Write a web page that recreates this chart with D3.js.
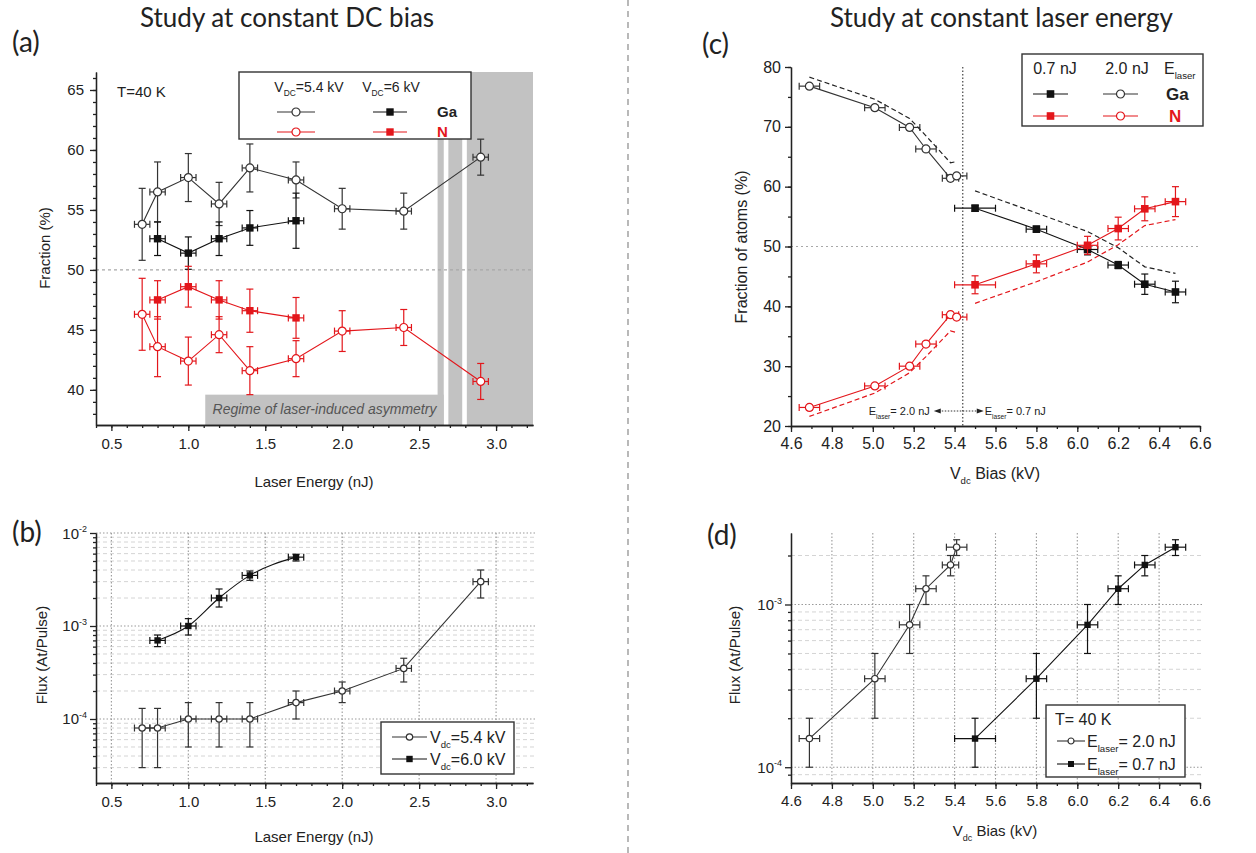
<!DOCTYPE html>
<html>
<head>
<meta charset="utf-8">
<script src="https://cdn.jsdelivr.net/npm/d3@7"></script>
<style>
  body { margin: 0; background: #fff; }
  svg { display: block; }
  text { font-family: "Liberation Sans", Arial, sans-serif; fill: #222; }
</style>
</head>
<body>
<svg id="fig" width="1256" height="853"></svg>
<script>
// ---- panel (a): fraction vs laser energy ----
var energyLow = [0.7, 0.8, 1.0, 1.2, 1.4, 1.7, 2.0, 2.4, 2.9];      // Vdc = 5.4 kV
var gaLow     = [53.8, 56.5, 57.7, 55.5, 58.5, 57.5, 55.1, 54.9, 59.4];
var gaLowErr  = [3.0, 2.5, 2.0, 1.8, 2.0, 1.5, 1.7, 1.5, 1.5];
var nLow      = [46.3, 43.6, 42.4, 44.6, 41.6, 42.6, 44.9, 45.2, 40.7];
var nLowErr   = [3.0, 2.5, 2.0, 1.5, 2.0, 1.5, 1.7, 1.5, 1.5];
var energyHigh = [0.8, 1.0, 1.2, 1.4, 1.7];                        // Vdc = 6 kV
var gaHigh     = [52.6, 51.4, 52.6, 53.5, 54.1];
var gaHighErr  = [1.4, 1.35, 1.4, 1.45, 2.3];
var nHigh      = [47.5, 48.6, 47.5, 46.6, 46.0];
var nHighErr   = [1.6, 1.7, 1.6, 1.8, 1.7];
var energyErr  = 0.05;
var asymBands  = [[2.62, 2.66], [2.69, 2.78], [2.81, 3.24]];
var regimeBox  = [1.11, 2.66, 37.07, 39.6];

// ---- panel (b): flux vs laser energy ----
var fluxLow    = [8e-5, 8e-5, 1e-4, 1e-4, 1e-4, 1.5e-4, 2e-4, 3.5e-4, 3e-3];
var fluxLowHi  = [1.3e-4, 1.3e-4, 1.5e-4, 1.5e-4, 1.5e-4, 2e-4, 2.5e-4, 4.5e-4, 4e-3];
var fluxLowLo  = [3e-5, 3e-5, 5e-5, 5e-5, 5e-5, 1e-4, 1.5e-4, 2.5e-4, 2e-3];
var fluxHigh   = [7e-4, 1e-3, 2e-3, 3.5e-3, 5.5e-3];
var fluxHighHi = [8e-4, 1.2e-3, 2.5e-3, 3.9e-3, 5.9e-3];
var fluxHighLo = [6e-4, 8e-4, 1.6e-3, 3.1e-3, 5e-3];

// ---- panel (c): fraction vs DC bias ----
var biasE2     = [4.69, 5.01, 5.18, 5.26, 5.38, 5.41];   // Elaser = 2.0 nJ
var biasE2Err  = [0.05, 0.05, 0.05, 0.05, 0.04, 0.05];
var gaE2       = [76.8, 73.2, 69.9, 66.3, 61.4, 61.8];
var nE2        = [23.1, 26.7, 30.0, 33.7, 38.6, 38.2];
var fracE2Err  = [0.4, 0.4, 0.4, 0.4, 0.4, 0.4];
var gaE2Dash   = [78.3, 74.6, 71.4, 68.5, 64.0, 64.2];
var nE2Dash    = [21.6, 25.5, 28.9, 31.6, 35.9, 35.6];
var biasE07    = [5.5, 5.8, 6.05, 6.2, 6.33, 6.48];       // Elaser = 0.7 nJ
var biasE07Err = [0.1, 0.05, 0.05, 0.05, 0.05, 0.05];
var gaE07      = [56.4, 52.9, 49.5, 46.9, 43.7, 42.4];
var gaE07Err   = [0.5, 0.5, 0.9, 0.6, 1.7, 1.8];
var nE07       = [43.6, 47.1, 50.2, 53.0, 56.3, 57.5];
var nE07Err    = [1.5, 1.5, 1.5, 1.9, 2.0, 2.5];
var gaE07Dash  = [59.3, 55.6, 52.5, 49.8, 46.6, 45.5];
var nE07Dash   = [40.5, 44.1, 47.4, 50.3, 53.5, 54.5];
var biasSwitch = 5.44;

// ---- panel (d): flux vs DC bias ----
var fluxE2     = [1.5e-4, 3.5e-4, 7.5e-4, 1.25e-3, 1.75e-3, 2.25e-3];
var fluxE2Hi   = [2e-4, 5e-4, 1e-3, 1.5e-3, 2e-3, 2.5e-3];
var fluxE2Lo   = [1e-4, 2e-4, 5e-4, 1e-3, 1.5e-3, 2e-3];
var fluxE07    = [1.5e-4, 3.5e-4, 7.5e-4, 1.25e-3, 1.75e-3, 2.25e-3];
var fluxE07Hi  = [2e-4, 5e-4, 1e-3, 1.5e-3, 2e-3, 2.5e-3];
var fluxE07Lo  = [1e-4, 2e-4, 5e-4, 1e-3, 1.5e-3, 2e-3];

var RED = "#e3161b", INK = "#222";
var svg = d3.select("#fig");
svg.append("rect").attr("width", 1256).attr("height", 853).attr("fill", "#fff");

// scales
var xA = d3.scaleLinear().domain([0.4, 3.24]).range([96, 533]);
var yA = d3.scaleLinear().domain([37.07, 66.5]).range([425, 72]);
var xB = xA.copy();
var yB = d3.scaleLog().domain([2.05e-5, 1e-2]).range([783, 533]);
var xC = d3.scaleLinear().domain([4.6, 6.6]).range([791, 1200]);
var yC = d3.scaleLinear().domain([20, 80]).range([426, 67]);
var xD = xC.copy();
var yD = d3.scaleLog().domain([8e-5, 2.75e-3]).range([783, 533]);

function points(xs, ys, xErr, yLo, yHi) {
    return xs.map(function (v, i) {
        var e = Array.isArray(xErr) ? xErr[i] : xErr;
        return {x: v, y: ys[i], xlo: v - e, xhi: v + e, ylo: yLo[i], yhi: yHi[i]};
    });
}
function minus(a, b) { return a.map(function (v, i) { return v - b[i]; }); }
function plus(a, b) { return a.map(function (v, i) { return v + b[i]; }); }
function range(a, b, s) { return d3.range(Math.round(a / s), Math.round(b / s) + 1).map(function (k) { return +(k * s).toFixed(3); }); }

function rich(g, x, y, parts, size, anchor) {
    var t = g.append("text").attr("x", x).attr("y", y).attr("font-size", size)
        .attr("text-anchor", anchor || "start");
    var shift = 0;
    parts.forEach(function (p) {
        var target = p.sub ? size * 0.32 : (p.sup ? -size * 0.42 : 0);
        t.append("tspan").attr("dy", target - shift)
            .attr("font-size", (p.sub || p.sup) ? size * 0.6 : size)
            .text(p.t);
        shift = target;
    });
    return t;
}

function series(g, x, y, data, o) {
    var line = d3.line().x(function (d) { return x(d.x); }).y(function (d) { return y(d.y); })
        .curve(o.curve || d3.curveLinear);
    g.append("path").datum(data).attr("d", line).attr("fill", "none")
        .attr("stroke", o.color).attr("stroke-width", 1.1);
    var cap = o.cap || 3.5;
    var eb = g.append("g").attr("stroke", o.color).attr("stroke-width", 1.2);
    eb.selectAll(".v").data(data).join("line")
        .attr("x1", function (d) { return x(d.x); }).attr("x2", function (d) { return x(d.x); })
        .attr("y1", function (d) { return y(d.ylo); }).attr("y2", function (d) { return y(d.yhi); });
    ["ylo", "yhi"].forEach(function (k) {
        eb.selectAll(".c" + k).data(data).join("line")
            .attr("x1", function (d) { return x(d.x) - cap; }).attr("x2", function (d) { return x(d.x) + cap; })
            .attr("y1", function (d) { return y(d[k]); }).attr("y2", function (d) { return y(d[k]); });
    });
    eb.selectAll(".h").data(data).join("line")
        .attr("x1", function (d) { return x(d.xlo); }).attr("x2", function (d) { return x(d.xhi); })
        .attr("y1", function (d) { return y(d.y); }).attr("y2", function (d) { return y(d.y); });
    ["xlo", "xhi"].forEach(function (k) {
        eb.selectAll(".c" + k).data(data).join("line")
            .attr("x1", function (d) { return x(d[k]); }).attr("x2", function (d) { return x(d[k]); })
            .attr("y1", function (d) { return y(d.y) - cap; }).attr("y2", function (d) { return y(d.y) + cap; });
    });
    marker(g.append("g").selectAll("g").data(data).join("g")
        .attr("transform", function (d) { return "translate(" + x(d.x) + "," + y(d.y) + ")"; }), o);
}

function marker(sel, o) {
    if (o.shape === "circle") {
        sel.append("circle").attr("r", o.size).attr("fill", "#fff")
            .attr("stroke", o.color).attr("stroke-width", 1.2);
    } else {
        sel.append("rect").attr("x", -o.size).attr("y", -o.size)
            .attr("width", 2 * o.size).attr("height", 2 * o.size).attr("fill", o.color);
    }
}

function dashed(g, x, y, xs, ys, color) {
    g.append("path").datum(d3.zip(xs, ys))
        .attr("d", d3.line().x(function (d) { return x(d[0]); }).y(function (d) { return y(d[1]); }))
        .attr("fill", "none").attr("stroke", color).attr("stroke-width", 1.2)
        .attr("stroke-dasharray", "5,3");
}

function styleAxis(sel, fs) {
    sel.attr("font-size", null).attr("font-family", null);
    sel.selectAll("path, line").attr("stroke", INK).attr("stroke-width", 1.3);
    sel.selectAll("text").attr("font-size", fs).attr("fill", INK);
}

function axesLinear(x, y, o) {
    var g = svg.append("g");
    var y0 = y.range()[0], x0 = x.range()[0];
    styleAxis(g.append("g").attr("transform", "translate(0," + y0 + ")")
        .call(d3.axisBottom(x).tickValues(o.xMinor).tickSize(3).tickSizeOuter(0).tickFormat("")), o.fs);
    styleAxis(g.append("g").attr("transform", "translate(0," + y0 + ")")
        .call(d3.axisBottom(x).tickValues(o.xMajor).tickSize(6).tickSizeOuter(0).tickPadding(o.padX)
            .tickFormat(d3.format(".1f"))), o.fs);
    styleAxis(g.append("g").attr("transform", "translate(" + x0 + ",0)")
        .call(d3.axisLeft(y).tickValues(o.yMinor).tickSize(3).tickSizeOuter(0).tickFormat("")), o.fs);
    if (o.log) {
        var ly = g.append("g").attr("transform", "translate(" + x0 + ",0)")
            .call(d3.axisLeft(y).tickValues(o.yMajor).tickSize(6).tickSizeOuter(0).tickFormat(""));
        styleAxis(ly, o.fs);
        ly.selectAll(".tick").each(function (d) {
            rich(d3.select(this), -9, 5, [{t: "10"}, {t: "-" + Math.round(-Math.log10(d)), sup: true}], o.fs, "end");
        });
    } else {
        styleAxis(g.append("g").attr("transform", "translate(" + x0 + ",0)")
            .call(d3.axisLeft(y).tickValues(o.yMajor).tickSize(6).tickSizeOuter(0).tickPadding(o.padY)
                .tickFormat(d3.format("d"))), o.fs);
    }
}

function logGrid(g, x, y, xMajor, yMajor, yMinor) {
    var x0 = x.range()[0], x1 = x.range()[1] + 2, y0 = y.range()[0], y1 = y.range()[1];
    g.selectAll(".gm").data(yMinor).join("line")
        .attr("x1", x0).attr("x2", x1).attr("y1", y).attr("y2", y)
        .attr("stroke", "#d4d4d4").attr("stroke-width", 1).attr("stroke-dasharray", "4,3");
    g.selectAll(".gy").data(yMajor).join("line")
        .attr("x1", x0).attr("x2", x1).attr("y1", y).attr("y2", y)
        .attr("stroke", "#9a9a9a").attr("stroke-width", 1.1).attr("stroke-dasharray", "1.5,2");
    g.selectAll(".gx").data(xMajor).join("line")
        .attr("x1", x).attr("x2", x).attr("y1", y0).attr("y2", y1)
        .attr("stroke", "#9a9a9a").attr("stroke-width", 1.1).attr("stroke-dasharray", "1.5,2");
}

function legendRow(g, x1, x2, y, o) {
    g.append("line").attr("x1", x1).attr("x2", x2).attr("y1", y).attr("y2", y)
        .attr("stroke", o.color).attr("stroke-width", 1.1);
    marker(g.append("g").attr("transform", "translate(" + (x1 + x2) / 2 + "," + y + ")"), o);
}

// ---- titles & separator ----
svg.append("line").attr("x1", 628).attr("x2", 628).attr("y1", 0).attr("y2", 853)
    .attr("stroke", "#8a8a8a").attr("stroke-width", 1.2).attr("stroke-dasharray", "6,5");
svg.append("text").attr("x", 140).attr("y", 27).attr("font-size", 26)
    .style("font-family", "Lato, 'Open Sans', sans-serif").text("Study at constant DC bias");
svg.append("text").attr("x", 830).attr("y", 27).attr("font-size", 26)
    .style("font-family", "Lato, 'Open Sans', sans-serif").text("Study at constant laser energy");
[["(a)", 12, 52], ["(b)", 12, 542], ["(c)", 702, 54], ["(d)", 707, 545]].forEach(function (p) {
    svg.append("text").attr("x", p[1]).attr("y", p[2]).attr("font-size", 28)
        .style("font-family", "Lato, 'Open Sans', sans-serif").text(p[0]);
});

// ================= panel (a) =================
var gA = svg.append("g");
gA.selectAll(".band").data(asymBands).join("rect")
    .attr("x", function (d) { return xA(d[0]); }).attr("width", function (d) { return xA(d[1]) - xA(d[0]); })
    .attr("y", yA.range()[1]).attr("height", yA.range()[0] - yA.range()[1]).attr("fill", "#c2c2c2");
gA.append("rect").attr("x", xA(regimeBox[0])).attr("width", xA(regimeBox[1]) - xA(regimeBox[0]))
    .attr("y", yA(regimeBox[3])).attr("height", yA(regimeBox[2]) - yA(regimeBox[3])).attr("fill", "#c2c2c2");
gA.append("text").attr("x", (xA(regimeBox[0]) + xA(regimeBox[1])) / 2).attr("y", yA(regimeBox[2]) - 11)
    .attr("text-anchor", "middle").attr("font-size", 14).attr("font-style", "italic")
    .style("fill", "#555").text("Regime of laser-induced asymmetry");
gA.append("line").attr("x1", xA.range()[0]).attr("x2", xA.range()[1]).attr("y1", yA(50)).attr("y2", yA(50))
    .attr("stroke", "#a8a8a8").attr("stroke-width", 1.2).attr("stroke-dasharray", "3,3");

series(gA, xA, yA, points(energyLow, gaLow, energyErr, minus(gaLow, gaLowErr), plus(gaLow, gaLowErr)),
    {color: "#333", shape: "circle", size: 4});
series(gA, xA, yA, points(energyHigh, gaHigh, energyErr, minus(gaHigh, gaHighErr), plus(gaHigh, gaHighErr)),
    {color: "#111", shape: "square", size: 3.7});
series(gA, xA, yA, points(energyLow, nLow, energyErr, minus(nLow, nLowErr), plus(nLow, nLowErr)),
    {color: RED, shape: "circle", size: 4});
series(gA, xA, yA, points(energyHigh, nHigh, energyErr, minus(nHigh, nHighErr), plus(nHigh, nHighErr)),
    {color: RED, shape: "square", size: 3.7});

axesLinear(xA, yA, {xMajor: range(0.5, 3.0, 0.5), xMinor: range(0.4, 3.2, 0.1),
    yMajor: range(40, 65, 5), yMinor: range(38, 66, 1), fs: 15, padX: 7, padY: 6});

gA.append("text").attr("x", 117).attr("y", 97).attr("font-size", 15).text("T=40 K");
var legA = svg.append("g");
legA.append("rect").attr("x", 239).attr("y", 72).attr("width", 232).attr("height", 67)
    .attr("fill", "#fff").attr("stroke", "#333").attr("stroke-width", 1.4);
rich(legA, 309, 92, [{t: "V"}, {t: "DC", sub: true}, {t: "=5.4 kV"}], 14, "middle");
rich(legA, 391, 92, [{t: "V"}, {t: "DC", sub: true}, {t: "=6 kV"}], 14, "middle");
legendRow(legA, 277, 315, 112, {color: "#333", shape: "circle", size: 4});
legendRow(legA, 373, 407, 112, {color: "#111", shape: "square", size: 3.7});
legendRow(legA, 277, 315, 132, {color: RED, shape: "circle", size: 4});
legendRow(legA, 373, 407, 132, {color: RED, shape: "square", size: 3.7});
legA.append("text").attr("x", 437).attr("y", 117).attr("font-size", 15).attr("font-weight", "bold").text("Ga");
legA.append("text").attr("x", 437).attr("y", 137).attr("font-size", 15).attr("font-weight", "bold")
    .style("fill", RED).text("N");

svg.append("text").attr("transform", "translate(50,248) rotate(-90)").attr("text-anchor", "middle")
    .attr("font-size", 15).text("Fraction (%)");
svg.append("text").attr("x", 314).attr("y", 487).attr("text-anchor", "middle")
    .attr("font-size", 15).text("Laser Energy (nJ)");

// ================= panel (b) =================
var gB = svg.append("g");
logGrid(gB, xB, yB, range(0.5, 3.0, 0.5), [1e-4, 1e-3, 1e-2],
    [3e-5, 4e-5, 5e-5, 6e-5, 7e-5, 8e-5, 9e-5, 2e-4, 3e-4, 4e-4, 5e-4, 6e-4, 7e-4, 8e-4, 9e-4,
     2e-3, 3e-3, 4e-3, 5e-3, 6e-3, 7e-3, 8e-3, 9e-3]);
series(gB, xB, yB, points(energyLow, fluxLow, energyErr, fluxLowLo, fluxLowHi),
    {color: "#333", shape: "circle", size: 3.2});
series(gB, xB, yB, points(energyHigh, fluxHigh, energyErr, fluxHighLo, fluxHighHi),
    {color: "#111", shape: "square", size: 3.2, curve: d3.curveMonotoneX});
axesLinear(xB, yB, {xMajor: range(0.5, 3.0, 0.5), xMinor: range(0.4, 3.2, 0.1),
    yMajor: [1e-4, 1e-3, 1e-2],
    yMinor: [3e-5, 4e-5, 5e-5, 6e-5, 7e-5, 8e-5, 9e-5, 2e-4, 3e-4, 4e-4, 5e-4, 6e-4, 7e-4, 8e-4, 9e-4,
             2e-3, 3e-3, 4e-3, 5e-3, 6e-3, 7e-3, 8e-3, 9e-3],
    fs: 15, padX: 7, log: true});
var legB = svg.append("g");
legB.append("rect").attr("x", 381).attr("y", 722).attr("width", 133).attr("height", 52)
    .attr("fill", "#fff").attr("stroke", "#333").attr("stroke-width", 1.4);
legendRow(legB, 392, 427, 737, {color: "#333", shape: "circle", size: 3.2});
legendRow(legB, 392, 427, 759, {color: "#111", shape: "square", size: 3.2});
rich(legB, 430, 743, [{t: "V"}, {t: "dc", sub: true}, {t: "=5.4 kV"}], 16);
rich(legB, 430, 765, [{t: "V"}, {t: "dc", sub: true}, {t: "=6.0 kV"}], 16);
svg.append("text").attr("transform", "translate(47,655) rotate(-90)").attr("text-anchor", "middle")
    .attr("font-size", 15).text("Flux (At/Pulse)");
svg.append("text").attr("x", 314).attr("y", 842).attr("text-anchor", "middle")
    .attr("font-size", 15).text("Laser Energy (nJ)");

// ================= panel (c) =================
var gC = svg.append("g");
gC.append("line").attr("x1", xC.range()[0]).attr("x2", xC.range()[1]).attr("y1", yC(50)).attr("y2", yC(50))
    .attr("stroke", "#a8a8a8").attr("stroke-width", 1.2).attr("stroke-dasharray", "2,3");
gC.append("line").attr("x1", xC(biasSwitch)).attr("x2", xC(biasSwitch)).attr("y1", yC.range()[1]).attr("y2", yC.range()[0])
    .attr("stroke", "#333").attr("stroke-width", 1.1).attr("stroke-dasharray", "1.5,2");
dashed(gC, xC, yC, biasE2, gaE2Dash, "#222");
dashed(gC, xC, yC, biasE2, nE2Dash, RED);
dashed(gC, xC, yC, biasE07, gaE07Dash, "#222");
dashed(gC, xC, yC, biasE07, nE07Dash, RED);
series(gC, xC, yC, points(biasE2, gaE2, biasE2Err, minus(gaE2, fracE2Err), plus(gaE2, fracE2Err)),
    {color: "#333", shape: "circle", size: 4});
series(gC, xC, yC, points(biasE2, nE2, biasE2Err, minus(nE2, fracE2Err), plus(nE2, fracE2Err)),
    {color: RED, shape: "circle", size: 4});
series(gC, xC, yC, points(biasE07, gaE07, biasE07Err, minus(gaE07, gaE07Err), plus(gaE07, gaE07Err)),
    {color: "#111", shape: "square", size: 3.8});
series(gC, xC, yC, points(biasE07, nE07, biasE07Err, minus(nE07, nE07Err), plus(nE07, nE07Err)),
    {color: RED, shape: "square", size: 3.8});
axesLinear(xC, yC, {xMajor: range(4.6, 6.6, 0.2), xMinor: range(4.6, 6.6, 0.1),
    yMajor: range(20, 80, 10), yMinor: range(20, 80, 5), fs: 16, padX: 6, padY: 4});

// switch annotation
var ay = yC(20) - 15;
rich(gC, xC(biasSwitch) - 33, ay + 4, [{t: "E"}, {t: "laser", sub: true}, {t: "= 2.0 nJ"}], 11, "end");
rich(gC, xC(biasSwitch) + 22, ay + 4, [{t: "E"}, {t: "laser", sub: true}, {t: "= 0.7 nJ"}], 11, "start");
gC.append("line").attr("x1", xC(biasSwitch) - 24).attr("x2", xC(biasSwitch) + 16).attr("y1", ay).attr("y2", ay)
    .attr("stroke", "#333").attr("stroke-width", 1).attr("stroke-dasharray", "1.5,1.5");
gC.append("path").attr("d", d3.line()([[xC(biasSwitch) - 29, ay], [xC(biasSwitch) - 22, ay - 2.5], [xC(biasSwitch) - 22, ay + 2.5]]) + "Z")
    .attr("fill", "#222");
gC.append("path").attr("d", d3.line()([[xC(biasSwitch) + 21, ay], [xC(biasSwitch) + 14, ay - 2.5], [xC(biasSwitch) + 14, ay + 2.5]]) + "Z")
    .attr("fill", "#222");

var legC = svg.append("g");
legC.append("rect").attr("x", 1022).attr("y", 54).attr("width", 181).attr("height", 72)
    .attr("fill", "#fff").attr("stroke", "#333").attr("stroke-width", 1.4);
legC.append("text").attr("x", 1055).attr("y", 74).attr("text-anchor", "middle").attr("font-size", 16).text("0.7 nJ");
legC.append("text").attr("x", 1127).attr("y", 74).attr("text-anchor", "middle").attr("font-size", 16).text("2.0 nJ");
rich(legC, 1164, 74, [{t: "E"}, {t: "laser", sub: true}], 16);
legendRow(legC, 1033, 1068, 94, {color: "#111", shape: "square", size: 3.8});
legendRow(legC, 1103, 1138, 94, {color: "#333", shape: "circle", size: 4});
legendRow(legC, 1033, 1068, 116, {color: RED, shape: "square", size: 3.8});
legendRow(legC, 1103, 1138, 116, {color: RED, shape: "circle", size: 4});
legC.append("text").attr("x", 1166).attr("y", 100).attr("font-size", 17).attr("font-weight", "bold").text("Ga");
legC.append("text").attr("x", 1169).attr("y", 122).attr("font-size", 17).attr("font-weight", "bold")
    .style("fill", RED).text("N");

svg.append("text").attr("transform", "translate(747,247) rotate(-90)").attr("text-anchor", "middle")
    .attr("font-size", 16).text("Fraction of atoms (%)");
rich(svg, 995, 479, [{t: "V"}, {t: "dc", sub: true}, {t: " Bias (kV)"}], 16, "middle");

// ================= panel (d) =================
var gD = svg.append("g");
var dMinor = [9e-5, 2e-4, 3e-4, 4e-4, 5e-4, 6e-4, 7e-4, 8e-4, 9e-4, 2e-3];
logGrid(gD, xD, yD, range(4.8, 6.4, 0.2), [1e-4, 1e-3], dMinor);
series(gD, xD, yD, points(biasE2, fluxE2, biasE2Err, fluxE2Lo, fluxE2Hi),
    {color: "#333", shape: "circle", size: 3.2});
series(gD, xD, yD, points(biasE07, fluxE07, biasE07Err, fluxE07Lo, fluxE07Hi),
    {color: "#111", shape: "square", size: 3.2});
axesLinear(xD, yD, {xMajor: range(4.6, 6.6, 0.2), xMinor: range(4.6, 6.6, 0.1),
    yMajor: [1e-4, 1e-3], yMinor: dMinor, fs: 15, padX: 6, log: true});
var legD = svg.append("g");
legD.append("rect").attr("x", 1046).attr("y", 705).attr("width", 139).attr("height", 72)
    .attr("fill", "#fff").attr("stroke", "#333").attr("stroke-width", 1.4);
legD.append("text").attr("x", 1055).attr("y", 725).attr("font-size", 16).text("T= 40 K");
legendRow(legD, 1057, 1085, 741, {color: "#333", shape: "circle", size: 3});
legendRow(legD, 1057, 1085, 764, {color: "#111", shape: "square", size: 3});
rich(legD, 1087, 747, [{t: "E"}, {t: "laser", sub: true}, {t: "= 2.0 nJ"}], 16);
rich(legD, 1087, 770, [{t: "E"}, {t: "laser", sub: true}, {t: "= 0.7 nJ"}], 16);

svg.append("text").attr("transform", "translate(740,655) rotate(-90)").attr("text-anchor", "middle")
    .attr("font-size", 15).text("Flux (At/Pulse)");
rich(svg, 995, 836, [{t: "V"}, {t: "dc", sub: true}, {t: " Bias (kV)"}], 15, "middle");
</script>
</body>
</html>
